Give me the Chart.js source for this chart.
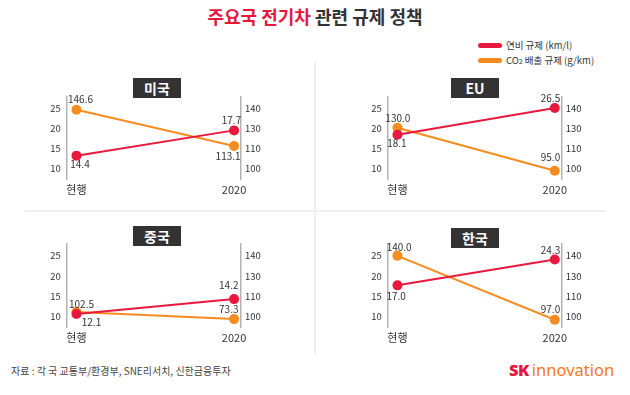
<!DOCTYPE html>
<html><head><meta charset="utf-8">
<script src="https://cdn.jsdelivr.net/npm/chart.js@4.4.1/dist/chart.umd.min.js"></script>
<style>
html,body{margin:0;padding:0;background:#fff;}
body{width:630px;height:395px;position:relative;overflow:hidden;font-family:"Noto Sans CJK KR","Noto Sans",sans-serif;}
.abs{position:absolute;}
.panel{position:absolute;}
.tag{position:absolute;width:48px;height:20px;background:#333;color:#fff;font-weight:700;font-size:14px;line-height:20px;text-align:center;}
.bar{position:absolute;width:24px;height:5px;border-radius:3px;}
.leg{position:absolute;font-size:9.5px;line-height:14px;color:#333;white-space:nowrap;}
</style></head><body>
<div class="abs" style="left:0;width:630px;top:6px;text-align:center;font-size:18px;line-height:20px;font-weight:700;letter-spacing:0;color:#333;"><span style="color:#e5173f">주요국 전기차</span> 관련 규제 정책</div>

<div class="bar" style="left:478px;top:43px;background:#e8193c"></div>
<div class="leg" style="left:506px;top:38px">연비 규제 (km/l)</div>
<div class="bar" style="left:478px;top:58px;background:#f68b1f"></div>
<div class="leg" style="left:506px;top:53px">CO<span style="font-size:7px">2</span> 배출 규제 (g/km)</div>

<div class="abs" style="left:314px;top:62px;width:1.5px;height:292px;background:#efefef"></div>
<div class="abs" style="left:25px;top:210px;width:580px;height:1.5px;background:#efefef"></div>

<div id="panels"></div>

<div class="abs" style="left:11px;top:364px;font-size:10px;line-height:14px;color:#444;letter-spacing:0;white-space:nowrap">자료 : 각 국 교통부/환경부, SNE리서치, 신한금융투자</div>
<div class="abs" style="left:509px;top:359px;font-size:16.5px;line-height:22px;white-space:nowrap;font-family:'Noto Sans',sans-serif"><span style="color:#e5173f;font-weight:900;letter-spacing:-0.5px">SK</span><span style="color:#f47a20;margin-left:3px">innovation</span></div>

<script>
// ---------- data ----------
const categories = ['현행', '2020'];
const regions = ['미국', 'EU', '중국', '한국'];
const fuelTicks = [10, 15, 20, 25];
const co2Ticks = [100, 110, 130, 140];

// plotted positions
const fuelUS = [13.3, 19.6];
const co2US = [139.5, 112.8];
const fuelEU = [18.5, 25.2];
const co2EU = [130.5, 99.1];
const fuelCN = [10.6, 14.3];
const co2CN = [102.2, 98.7];
const fuelKR = [17.7, 24.1];
const co2KR = [140.0, 98.4];

// printed value labels
const fuelLabelsUS = ['14.4', '17.7'];
const co2LabelsUS = ['146.6', '113.1'];
const fuelLabelsEU = ['18.1', '26.5'];
const co2LabelsEU = ['130.0', '95.0'];
const fuelLabelsCN = ['12.1', '14.2'];
const co2LabelsCN = ['102.5', '73.3'];
const fuelLabelsKR = ['17.0', '24.3'];
const co2LabelsKR = ['140.0', '97.0'];

const seriesNames = ['연비 규제 (km/l)', 'CO2 배출 규제 (g/km)'];

// ---------- layout / style ----------
const RED = '#e8193c', ORANGE = '#f68b1f';
const layouts = [
  {left:30, top:85, padTop:6.5, yW:36.7, y1W:39, xH:25.3, tagLeft:133, tagTop:77.5,
   fuelOff:[[3.5,8.6],[-2.6,-9.8]], co2Off:[[4,-10.3],[-6,10.3]]},
  {left:350, top:85, padTop:6.5, yW:37.7, y1W:38.3, xH:25.3, tagLeft:451, tagTop:78,
   fuelOff:[[-0.6,8.5],[-4.3,-10]], co2Off:[[0.4,-9.8],[-4.3,-13.5]]},
  {left:30, top:232, padTop:8, yW:36.7, y1W:39, xH:24.6, tagLeft:133, tagTop:226,
   fuelOff:[[15,8.5],[-5.3,-13.5]], co2Off:[[5,-8],[-5.3,-9.7]]},
  {left:350, top:232, padTop:8, yW:37.7, y1W:38.3, xH:24.6, tagLeft:451, tagTop:227.5,
   fuelOff:[[-1.3,11],[-4.3,-9.6]], co2Off:[[1.7,-9],[-4.3,-10.7]]}
];
const panelData = [
  [fuelUS, co2US, fuelLabelsUS, co2LabelsUS],
  [fuelEU, co2EU, fuelLabelsEU, co2LabelsEU],
  [fuelCN, co2CN, fuelLabelsCN, co2LabelsCN],
  [fuelKR, co2KR, fuelLabelsKR, co2LabelsKR]
];

// ---------- piecewise axis (right axis ticks 100,110,130,140 evenly spaced) ----------
class PiecewiseScale extends Chart.LinearScale {
  _knots() { return (this.options && this.options.knots) || co2Ticks; }
  _t(v) {
    const k = this._knots(), n = k.length;
    let i = 0;
    if (v <= k[0]) i = 0;
    else if (v >= k[n - 1]) i = n - 2;
    else { while (i < n - 2 && v > k[i + 1]) i++; }
    return i + (v - k[i]) / (k[i + 1] - k[i]);
  }
  buildTicks() { return this._knots().map(v => ({value: v})); }
  getPixelForValue(v) {
    if (v === null || v === undefined) return NaN;
    const t0 = this._t(this.min), t1 = this._t(this.max);
    return this.getPixelForDecimal((this._t(v) - t0) / (t1 - t0));
  }
}
PiecewiseScale.id = 'piecewise';
PiecewiseScale.defaults = {};
Chart.register(PiecewiseScale);

const valueLabelPlugin = {
  id: 'valueLabels',
  afterDatasetsDraw(chart) {
    const ctx = chart.ctx;
    chart.data.datasets.forEach((ds, di) => {
      const meta = chart.getDatasetMeta(di);
      meta.data.forEach((pt, j) => {
        const off = ds.labelOffsets[j];
        ctx.save();
        ctx.font = '10px "Noto Sans CJK KR", "Noto Sans", sans-serif';
        ctx.fillStyle = '#333';
        ctx.textAlign = 'center';
        ctx.textBaseline = 'middle';
        ctx.fillText(ds.valueLabels[j], pt.x + off[0], pt.y + off[1]);
        ctx.restore();
      });
    });
  }
};

Chart.defaults.font.family = '"Noto Sans CJK KR", "Noto Sans", sans-serif';
Chart.defaults.color = '#333';

const FUEL_MIN = 7.3, FUEL_MAX = 28;
const CO2_MIN = 94.6, CO2_MAX = 146;
const W = 250, H = 120;
const AXIS = '#b3b3b3';

const host = document.getElementById('panels');
layouts.forEach((L, p) => {
  const [fuel, co2, fuelLbl, co2Lbl] = panelData[p];
  const wrap = document.createElement('div');
  wrap.className = 'panel';
  wrap.style.left = L.left + 'px';
  wrap.style.top = L.top + 'px';
  const cv = document.createElement('canvas');
  cv.width = W; cv.height = H;
  cv.style.width = W + 'px'; cv.style.height = H + 'px';
  wrap.appendChild(cv);
  host.appendChild(wrap);
  const tag = document.createElement('div');
  tag.className = 'tag';
  tag.style.left = L.tagLeft + 'px';
  tag.style.top = L.tagTop + 'px';
  tag.textContent = regions[p];
  host.appendChild(tag);

  new Chart(cv, {
    type: 'line',
    data: {
      datasets: [
        {label: seriesNames[0], data: fuel.map((v, i) => ({x: i, y: v})), yAxisID: 'y',
         borderColor: RED, backgroundColor: RED, borderWidth: 2, pointRadius: 5, pointBorderWidth: 0,
         pointHoverRadius: 5, valueLabels: fuelLbl, labelOffsets: L.fuelOff},
        {label: seriesNames[1], data: co2.map((v, i) => ({x: i, y: v})), yAxisID: 'y1',
         borderColor: ORANGE, backgroundColor: ORANGE, borderWidth: 2, pointRadius: 5, pointBorderWidth: 0,
         pointHoverRadius: 5, valueLabels: co2Lbl, labelOffsets: L.co2Off}
      ]
    },
    options: {
      responsive: false, animation: false, devicePixelRatio: 1,
      layout: {padding: {top: L.padTop, left: 0, right: 0, bottom: 0}},
      plugins: {legend: {display: false}, tooltip: {enabled: false}},
      scales: {
        x: {type: 'linear', min: -0.062, max: 1.044, bounds: 'data',
            grid: {display: false, drawTicks: false}, border: {display: false},
            afterBuildTicks: s => { s.ticks = categories.map((c, i) => ({value: i})); },
            afterFit: s => { s.height = L.xH; },
            ticks: {callback: v => categories[v], font: {size: 11}, color: '#333', padding: 4, maxRotation: 0, autoSkip: false}},
        y: {type: 'linear', position: 'left', min: FUEL_MIN, max: FUEL_MAX, bounds: 'data',
            grid: {display: false, drawTicks: false}, border: {display: true, color: AXIS, width: 1.5},
            afterBuildTicks: s => { s.ticks = fuelTicks.map(v => ({value: v})); },
            afterFit: s => { s.width = L.yW; },
            ticks: {font: {size: 9.5}, color: '#333', padding: 6, callback: v => String(v)}},
        y1: {type: 'piecewise', position: 'right', min: CO2_MIN, max: CO2_MAX, knots: co2Ticks, bounds: 'data',
            grid: {display: false, drawTicks: false}, border: {display: true, color: AXIS, width: 1.5},
            afterFit: s => { s.width = L.y1W; },
            ticks: {font: {size: 9.5}, color: '#333', padding: 4, callback: v => String(v)}}
      }
    },
    plugins: [valueLabelPlugin]
  });
});
</script>
</body></html>
